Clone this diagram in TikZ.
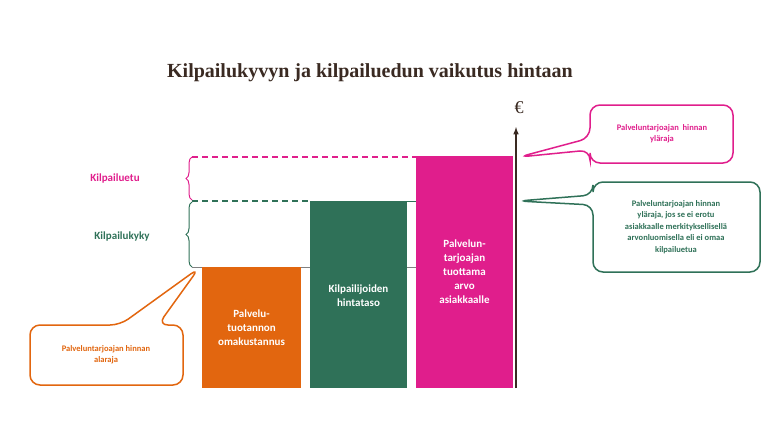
\documentclass[tikz,border=0pt]{standalone}
\usepackage{fontspec}
\setmainfont{Carlito}
\newfontfamily\titlefont{Liberation Serif}
\usetikzlibrary{decorations.pathreplacing}
\definecolor{cOrange}{HTML}{E2660F}
\definecolor{cGreen}{HTML}{2F7158}
\definecolor{cPink}{HTML}{E01E8C}
\definecolor{cBrown}{HTML}{3A2A22}
\tikzset{
  bar/.style={draw=none,text=white,font=\bfseries\fontsize{11}{14}\selectfont,align=center},
  lvl/.style={dashed,line width=1.2pt,dash pattern=on 6pt off 4pt},
  callout/.style={line width=1.5pt,rounded corners=10pt,fill=white},
  tag/.style={font=\bfseries\fontsize{11}{13}\selectfont}
}
\begin{document}
\begin{tikzpicture}[x=1pt,y=-1pt]
\useasboundingbox (0,0) rectangle (768,432);
\node[font=\titlefont\bfseries\fontsize{20}{24}\selectfont,text=cBrown] (title) at (370,73) {Kilpailukyvyn ja kilpailuedun vaikutus hintaan};
% bars
\fill[cOrange] (202,267) rectangle (301,388);
\fill[cGreen] (310,201) rectangle (407,388);
\fill[cPink] (416,156) rectangle (513,388);
\node[bar] (own) at (251.5,328) {Palvelu-\\tuotannon\\omakustannus};
\node[bar] (comp) at (358.5,296) {Kilpailijoiden\\hintataso};
\node[bar] (val) at (464.5,272) {Palvelun-\\tarjoajan\\tuottama\\arvo\\asiakkaalle};
% levels
\draw[cPink,lvl] (192,157) -- (416,157);
\draw[cGreen,lvl] (192,201) -- (310,201);
\draw[cGreen,thin] (407,201) -- (416,201);
\draw[gray,thin] (192,267) -- (202,267);
\draw[gray,thin] (301,267) -- (310,267);
\draw[gray,thin] (407,267) -- (416,267);
% axis
\coordinate (a0) at (516,388);
\coordinate (a1) at (516,127);
\draw[cBrown,line width=1.5pt,-latex] (a0) -- (a1);
\node[font=\titlefont\fontsize{18}{20}\selectfont,text=cBrown] (eur) at (519,108) {€};
% braces
\draw[cPink,line width=1pt,decorate,decoration={brace,amplitude=6pt}] (192,200) -- (192,157);
\draw[cGreen,line width=1pt,decorate,decoration={brace,amplitude=6pt}] (192,267) -- (192,202);
\node[tag,text=cPink] (edge) at (115,178) {Kilpailuetu};
\node[tag,text=cGreen] (compet) at (122,236) {Kilpailukyky};
% callouts
\draw[cOrange,callout] (120,325) -- (199,268) -- (158,325) -- (183,325) -- (183,385) -- (30,385) -- (30,325) -- cycle;
\node[tag,text=cOrange,font=\bfseries\fontsize{8.5}{11}\selectfont,align=center] (low) at (106,355) {Palveluntarjoajan hinnan\\alaraja};
\draw[cPink,callout] (590,138) -- (519,157) -- (590,150) -- (590,163) -- (733,163) -- (733,105) -- (590,105) -- cycle;
\node[text=cPink,font=\bfseries\fontsize{8.5}{11}\selectfont,align=center] (up) at (662,134) {Palveluntarjoajan\ \ hinnan\\yläraja};
\draw[cGreen,callout] (593,195) -- (518,201) -- (593,205) -- (593,272) -- (760,272) -- (760,182) -- (593,182) -- cycle;
\node[text=cGreen,font=\bfseries\fontsize{8.5}{11.5}\selectfont,align=center] (up2) at (676,227) {Palveluntarjoajan hinnan\\yläraja, jos se ei erotu\\asiakkaalle merkityksellisellä\\arvonluomisella eli ei omaa\\kilpailuetua};
\end{tikzpicture}
\end{document}
